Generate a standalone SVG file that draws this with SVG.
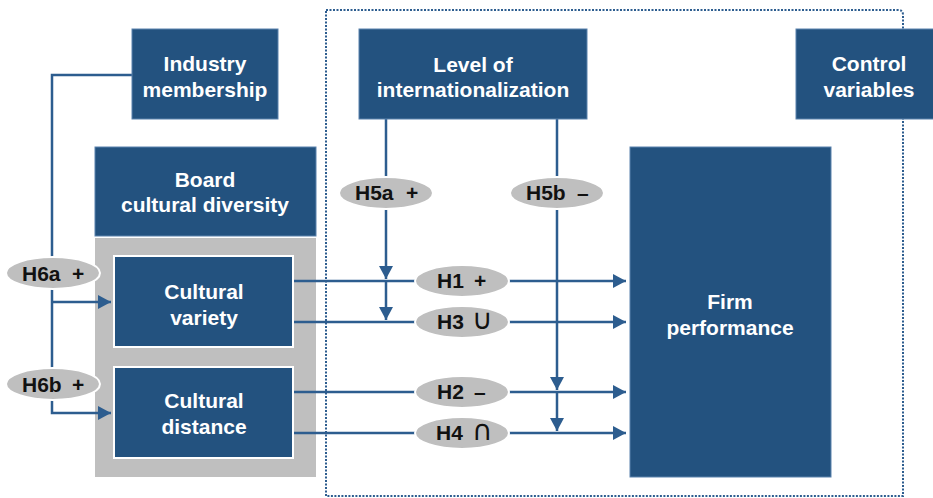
<svg xmlns="http://www.w3.org/2000/svg" width="933" height="498" viewBox="0 0 933 498">
<defs>
<style>
.box{fill:#23527f;stroke:#5b82ad;stroke-width:1}
.inner{fill:#23527f;stroke:#ffffff;stroke-width:2}
.bt{font-family:"Liberation Sans",Arial,sans-serif;font-weight:bold;font-size:21px;fill:#ffffff;text-anchor:middle}
.ell{fill:#bfbfbf;stroke:#ffffff;stroke-width:2}
.lt{font-family:"Liberation Sans",Arial,sans-serif;font-weight:bold;font-size:21px;fill:#111111}
.sym{font-family:"DejaVu Sans",sans-serif;font-weight:normal;font-size:28px}
.ln{fill:none;stroke:#2d5d8f;stroke-width:2.5}
</style>
<marker id="ah" markerUnits="userSpaceOnUse" markerWidth="14" markerHeight="14" refX="13" refY="7" orient="auto">
<path d="M0,0 L13,7 L0,14 z" fill="#2d5d8f"/>
</marker>
</defs>
<rect width="933" height="498" fill="#ffffff"/>
<path id="frame" d="M326,10 H898 Q903,10 903,15 V496 H326 Z" fill="none" stroke="#2d5d8f" stroke-width="2" stroke-dasharray="2 1.5"/>
<rect id="panel" x="95" y="238" width="221" height="239" fill="#bfbfbf"/>
<g id="connectors">
<path class="ln" d="M132,75 H52 V413 H111" marker-end="url(#ah)"/>
<path class="ln" d="M52,302 H111" marker-end="url(#ah)"/>
<path class="ln" d="M293,281 H626" marker-end="url(#ah)"/>
<path class="ln" d="M293,322 H626" marker-end="url(#ah)"/>
<path class="ln" d="M293,392 H626" marker-end="url(#ah)"/>
<path class="ln" d="M293,433 H626" marker-end="url(#ah)"/>
<path class="ln" d="M386,119 V279" marker-end="url(#ah)"/>
<path class="ln" d="M386,281 V320" marker-end="url(#ah)"/>
<path class="ln" d="M557,119 V390" marker-end="url(#ah)"/>
<path class="ln" d="M557,392 V431" marker-end="url(#ah)"/>
</g>
<g id="industry"><rect class="box" x="132" y="29" width="146" height="90"/><text class="bt" x="205" y="71">Industry</text><text class="bt" x="205" y="97">membership</text></g>
<g id="board"><rect class="box" x="95" y="147" width="221" height="89"/><text class="bt" x="205" y="187">Board</text><text class="bt" x="205" y="212">cultural diversity</text></g>
<g id="variety"><rect class="inner" x="114" y="256" width="179" height="91"/><text class="bt" x="204" y="299">Cultural</text><text class="bt" x="204" y="325">variety</text></g>
<g id="distance"><rect class="inner" x="114" y="367" width="179" height="91"/><text class="bt" x="204" y="408">Cultural</text><text class="bt" x="204" y="434">distance</text></g>
<g id="internationalization"><rect class="box" x="359" y="29" width="228" height="90"/><text class="bt" x="473" y="72">Level of</text><text class="bt" x="473" y="97">internationalization</text></g>
<g id="control"><rect class="box" x="796" y="29" width="150" height="90"/><text class="bt" x="869" y="71">Control</text><text class="bt" x="869" y="97">variables</text></g>
<g id="performance"><rect class="box" x="630" y="147" width="201" height="330"/><text class="bt" x="730" y="309">Firm</text><text class="bt" x="730" y="335">performance</text></g>
<g id="h6a"><ellipse class="ell" cx="53" cy="273" rx="47" ry="16"/><text class="lt" y="281"><tspan x="22">H6a</tspan><tspan x="72">+</tspan></text></g>
<g id="h6b"><ellipse class="ell" cx="53" cy="384" rx="47" ry="16"/><text class="lt" y="392"><tspan x="22">H6b</tspan><tspan x="72">+</tspan></text></g>
<g id="h5a"><ellipse class="ell" cx="386" cy="193" rx="47" ry="16"/><text class="lt" y="200"><tspan x="355">H5a</tspan><tspan x="406">+</tspan></text></g>
<g id="h5b"><ellipse class="ell" cx="557" cy="193" rx="47" ry="16"/><text class="lt" y="200"><tspan x="526">H5b</tspan><tspan x="577">–</tspan></text></g>
<g id="h1"><ellipse class="ell" cx="462" cy="281" rx="47" ry="16"/><text class="lt" y="288"><tspan x="437">H1</tspan><tspan x="474">+</tspan></text></g>
<g id="h3"><ellipse class="ell" cx="462" cy="322" rx="47" ry="16"/><text class="lt" y="329"><tspan x="437">H3</tspan><tspan class="sym" x="472">∪</tspan></text></g>
<g id="h2"><ellipse class="ell" cx="462" cy="392" rx="47" ry="16"/><text class="lt" y="399"><tspan x="437">H2</tspan><tspan x="474">–</tspan></text></g>
<g id="h4"><ellipse class="ell" cx="462" cy="433" rx="47" ry="16"/><text class="lt" y="440"><tspan x="436">H4</tspan><tspan class="sym" x="472">∩</tspan></text></g>
</svg>
